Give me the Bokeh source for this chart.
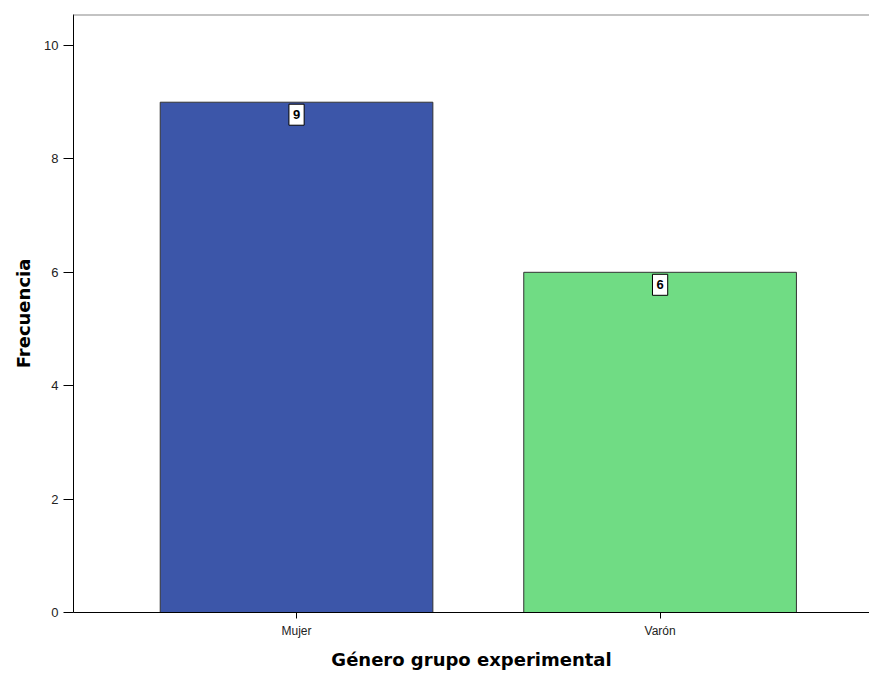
from bokeh.plotting import figure
from bokeh.models import Range1d, Span, ColumnDataSource, FixedTicker
from bokeh.core.properties import value
from bokeh.embed import file_html
from bokeh.resources import INLINE

categories = ["Mujer", "Varón"]
counts = [9, 6]
colors = ["#3C56A9", "#70DC84"]
y_ticks = [0, 2, 4, 6, 8, 10]

xs = list(range(len(categories)))
src = ColumnDataSource(dict(x=xs, top=counts, color=colors,
                            label=[str(c) for c in counts]))

p = figure(width=869, height=673, output_backend="svg", toolbar_location=None,
           x_range=Range1d(-0.6135, 1.576), y_range=Range1d(0, 10.547),
           min_border_left=73, min_border_right=0, min_border_top=14,
           min_border_bottom=61)
p.outline_line_color = None
p.grid.grid_line_color = None
p.background_fill_color = "white"

p.vbar(x="x", top="top", width=0.75, bottom=0, fill_color="color",
       line_color="#333333", line_width=1, source=src)

p.text(x="x", y="top", text="label", source=src,
       text_align="center", text_baseline="top", y_offset=2,
       text_font=value("Liberation Sans"), text_font_style="bold",
       text_font_size="13px", text_color="black",
       background_fill_color="white", border_line_color="black",
       border_line_width=1, padding=(4, 6))

p.add_layout(Span(location=10.547, dimension="width", line_color="#888888",
                  line_width=2))

# y axis
p.yaxis.ticker = FixedTicker(ticks=y_ticks)
p.yaxis.minor_tick_line_color = None
p.yaxis.major_tick_out = 10
p.yaxis.major_tick_in = 0
p.yaxis.axis_line_color = "black"
p.yaxis.major_tick_line_color = "black"
p.yaxis.major_label_text_font = "Liberation Sans"
p.yaxis.major_label_text_font_size = "13px"
p.yaxis.major_label_text_color = "#222222"
p.yaxis.axis_label = "Frecuencia"
p.yaxis.axis_label_text_font = "DejaVu Sans"
p.yaxis.axis_label_text_font_style = "bold"
p.yaxis.axis_label_text_font_size = "18px"
p.yaxis.axis_label_text_color = "black"
p.yaxis.axis_label_standoff = 7

# x axis
p.xaxis.ticker = FixedTicker(ticks=xs)
p.xaxis.major_label_overrides = {i: c for i, c in zip(xs, categories)}
p.xaxis.minor_tick_line_color = None
p.xaxis.major_tick_out = 6
p.xaxis.major_tick_in = 0
p.xaxis.axis_line_color = "black"
p.xaxis.major_tick_line_color = "black"
p.xaxis.major_label_text_font = "Liberation Sans"
p.xaxis.major_label_text_font_size = "12px"
p.xaxis.major_label_text_color = "#222222"
p.xaxis.axis_label = "Género grupo experimental"
p.xaxis.axis_label_text_font = "DejaVu Sans"
p.xaxis.axis_label_text_font_style = "bold"
p.xaxis.axis_label_text_font_size = "18px"
p.xaxis.axis_label_text_color = "black"
p.xaxis.axis_label_standoff = 8

open("out.html", "w").write(file_html(p, INLINE))
